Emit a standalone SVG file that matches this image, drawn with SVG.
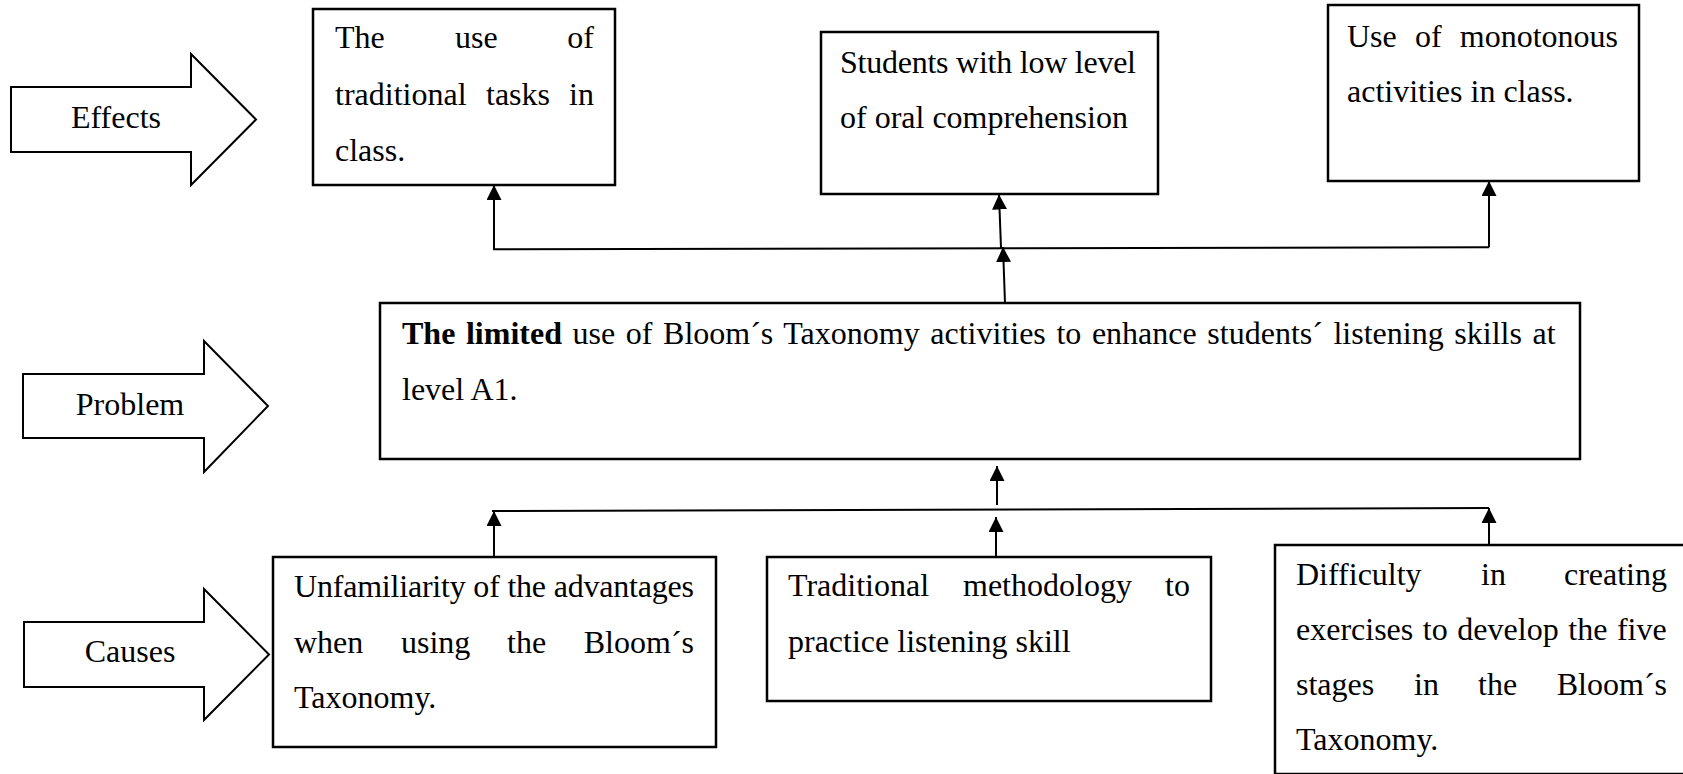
<svg xmlns="http://www.w3.org/2000/svg" width="1683" height="774" viewBox="0 0 1683 774">
  <style>
    .box { fill: #ffffff; stroke: #000000; stroke-width: 2.5; }
    .blk { fill: #ffffff; stroke: #000000; stroke-width: 2; stroke-linejoin: miter; }
    .t { font-family: "Liberation Serif", "Times New Roman", serif; font-size: 32px; fill: #000000; }
    .end { text-anchor: end; }
    .mid { text-anchor: middle; }
    .link { fill: none; stroke: #000000; stroke-width: 2; marker-end: url(#head); }
    .rail { fill: none; stroke: #000000; stroke-width: 2; }
  </style>
  <defs>
    <marker id="head" viewBox="0 0 15 15" refX="15" refY="7.5" markerWidth="15" markerHeight="15" markerUnits="userSpaceOnUse" orient="auto">
      <path d="M0,0 L15,7.5 L0,15 z" fill="#000000"/>
    </marker>
  </defs>
  <rect width="1683" height="774" fill="#ffffff"/>

  <!-- side labels: block arrows -->
  <g id="label-effects">
    <path class="blk" d="M11,87 L191,87 L191,54 L256,119.5 L191,185 L191,152 L11,152 Z"/>
    <text class="t mid" x="116" y="128">Effects</text>
  </g>
  <g id="label-problem">
    <path class="blk" d="M23,374 L204,374 L204,341 L268,406 L204,472 L204,438 L23,438 Z"/>
    <text class="t mid" x="130" y="415">Problem</text>
  </g>
  <g id="label-causes">
    <path class="blk" d="M24,622 L204,622 L204,589 L269,654.5 L204,720 L204,687 L24,687 Z"/>
    <text class="t mid" x="130" y="662">Causes</text>
  </g>

  <!-- effects -->
  <g id="effect-1">
    <rect class="box" x="313" y="9" width="302" height="176"/>
    <text class="t" y="48"><tspan x="335">The</tspan><tspan x="455">use</tspan><tspan x="594" class="end">of</tspan></text>
    <text class="t" y="104.5"><tspan x="335">traditional</tspan><tspan x="486">tasks</tspan><tspan x="594" class="end">in</tspan></text>
    <text class="t" x="335" y="161">class.</text>
  </g>
  <g id="effect-2">
    <rect class="box" x="821" y="32" width="337" height="162"/>
    <text class="t" x="840" y="73" textLength="296" lengthAdjust="spacing">Students with low level</text>
    <text class="t" x="840" y="128">of oral comprehension</text>
  </g>
  <g id="effect-3">
    <rect class="box" x="1328" y="5" width="311" height="176"/>
    <text class="t" y="46.5"><tspan x="1347">Use</tspan><tspan x="1415">of</tspan><tspan x="1618" class="end">monotonous</tspan></text>
    <text class="t" x="1347" y="102">activities in class.</text>
  </g>

  <!-- central problem -->
  <g id="problem">
    <rect class="box" x="380" y="303" width="1200" height="156"/>
    <text class="t" x="402" y="344" style="word-spacing:2.6px"><tspan font-weight="bold">The limited</tspan> use of Bloom´s Taxonomy activities to enhance students´ listening skills at</text>
    <text class="t" x="402" y="400">level A1.</text>
  </g>

  <!-- causes -->
  <g id="cause-1">
    <rect class="box" x="273" y="557" width="443" height="190"/>
    <text class="t" x="294" y="597" textLength="400" lengthAdjust="spacing">Unfamiliarity of the advantages</text>
    <text class="t" y="652.5"><tspan x="294">when</tspan><tspan x="401">using</tspan><tspan x="507">the</tspan><tspan x="694" class="end">Bloom´s</tspan></text>
    <text class="t" x="294" y="708">Taxonomy.</text>
  </g>
  <g id="cause-2">
    <rect class="box" x="767" y="557" width="444" height="144"/>
    <text class="t" y="596"><tspan x="788">Traditional</tspan><tspan x="963">methodology</tspan><tspan x="1190" class="end">to</tspan></text>
    <text class="t" x="788" y="652">practice listening skill</text>
  </g>
  <g id="cause-3">
    <rect class="box" x="1275" y="545" width="500" height="229"/>
    <text class="t" y="585"><tspan x="1296">Difficulty</tspan><tspan x="1481">in</tspan><tspan x="1667" class="end">creating</tspan></text>
    <text class="t" x="1296" y="640" style="word-spacing:1.6px">exercises to develop the five</text>
    <text class="t" y="695"><tspan x="1296">stages</tspan><tspan x="1414">in</tspan><tspan x="1478">the</tspan><tspan x="1667" class="end">Bloom´s</tspan></text>
    <text class="t" x="1296" y="750">Taxonomy.</text>
  </g>

  <!-- connectors -->
  <g id="connectors">
    <!-- problem up to the effects rail -->
    <path class="rail" d="M493,249.3 L1489,247.3"/>
    <path class="link" d="M494,249.3 L494,185"/>
    <path class="link" d="M1489,247.3 L1489,181"/>
    <path class="link" d="M1005,303 L1003,247"/>
    <path class="link" d="M1001,248 L999,194.5"/>
    <!-- causes rail up to the problem -->
    <path class="rail" d="M492,511 L1489,508"/>
    <path class="link" d="M494,557 L494,511"/>
    <path class="link" d="M996,557 L996,517"/>
    <path class="link" d="M1489,545 L1489,508"/>
    <path class="link" d="M997,505 L997,466"/>
  </g>
</svg>
